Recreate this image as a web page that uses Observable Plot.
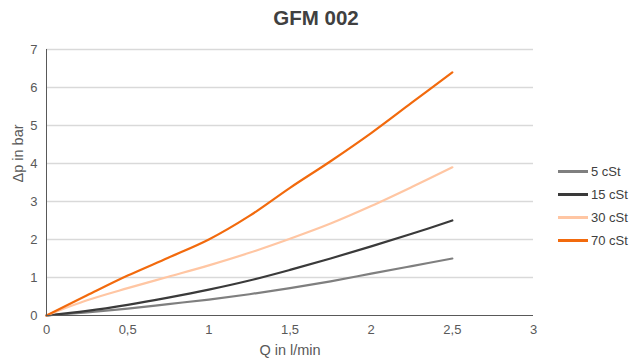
<!DOCTYPE html>
<html><head><meta charset="utf-8">
<script src="https://cdn.jsdelivr.net/npm/d3@7"></script>
<script src="https://cdn.jsdelivr.net/npm/@observablehq/plot@0.6"></script>
<style>
body{margin:0;background:#fff;font-family:"Liberation Sans",Arial,sans-serif;}
#wrap{position:relative;width:632px;height:360px;}
#title{position:absolute;left:0;width:632px;top:6px;text-align:center;font-size:20.5px;font-weight:bold;color:#404040;}
#legend{position:absolute;left:558px;top:160px;font-size:13px;color:#404040;}
.li{display:flex;align-items:center;height:23px;}
.sw{width:30px;height:3px;margin-right:3px;}
.axlabel{font-size:14.5px;fill:#595959;}
</style></head><body>
<div id="wrap"><div id="title">GFM 002</div><div id="legend"></div></div>
<script>
const q = [0, 0.25, 0.5, 0.75, 1, 1.25, 1.5, 1.75, 2, 2.25, 2.5];
const cst5  = [0, 0.08, 0.18, 0.30, 0.42, 0.56, 0.72, 0.90, 1.10, 1.30, 1.50];
const cst15 = [0, 0.12, 0.28, 0.47, 0.68, 0.92, 1.20, 1.50, 1.82, 2.15, 2.50];
const cst30 = [0, 0.40, 0.72, 1.02, 1.32, 1.65, 2.02, 2.42, 2.88, 3.38, 3.90];
const cst70 = [0, 0.53, 1.05, 1.52, 2.00, 2.62, 3.36, 4.06, 4.80, 5.60, 6.40];
const seriesNames = ["5 cSt", "15 cSt", "30 cSt", "70 cSt"];
const seriesColors = ["#7f7f7f", "#3a3a3a", "#ffc6a3", "#f26a0d"];
const xTicks = [0, 0.5, 1, 1.5, 2, 2.5, 3];
const yTicks = [0, 1, 2, 3, 4, 5, 6, 7];

const all = [cst5, cst15, cst30, cst70];
const data = [];
all.forEach((arr, i) => arr.forEach((v, j) => data.push({q: q[j], p: v, s: seriesNames[i]})));
const fmt = d => String(d).replace(".", ",");

const chart = Plot.plot({
  width: 632, height: 360,
  marginLeft: 46, marginRight: 99, marginTop: 49, marginBottom: 45,
  style: {fontFamily: "Liberation Sans, Arial, sans-serif", fontSize: "13px", color: "#595959", background: "transparent"},
  x: {domain: [0, 3]},
  y: {domain: [0, 7]},
  color: {domain: seriesNames, range: seriesColors},
  marks: [
    Plot.gridY(yTicks.filter(d => d > 0), {stroke: "#d9d9d9", strokeOpacity: 1, strokeWidth: 1.5}),
    Plot.axisX(xTicks, {tickSize: 0, tickPadding: 9, tickFormat: fmt, label: null}),
    Plot.axisY(yTicks, {tickSize: 0, tickPadding: 9, label: null}),
    Plot.text(["Q in l/min"], {frameAnchor: "bottom", dy: 39, text: d => d, fontSize: 14.5, fill: "#595959"}),
    Plot.text(["Δp in bar"], {frameAnchor: "left", dx: -28, rotate: -90, text: d => d, fontSize: 14.5, fill: "#595959"}),
    Plot.line(data, {x: "q", y: "p", z: "s", stroke: "s", strokeWidth: 2.2, curve: "catmull-rom"}),
    Plot.ruleX([0], {stroke: "#595959", strokeWidth: 1}),
    Plot.ruleY([0], {stroke: "#595959", strokeWidth: 1})
  ]
});
document.getElementById("wrap").appendChild(chart);
chart.style.position = "absolute"; chart.style.left = "0"; chart.style.top = "0";
const lg = document.getElementById("legend");
seriesNames.forEach((n, i) => {
  const d = document.createElement("div"); d.className = "li";
  d.innerHTML = `<div class="sw" style="background:${seriesColors[i]}"></div><span>${n}</span>`;
  lg.appendChild(d);
});
</script>
</body></html>
